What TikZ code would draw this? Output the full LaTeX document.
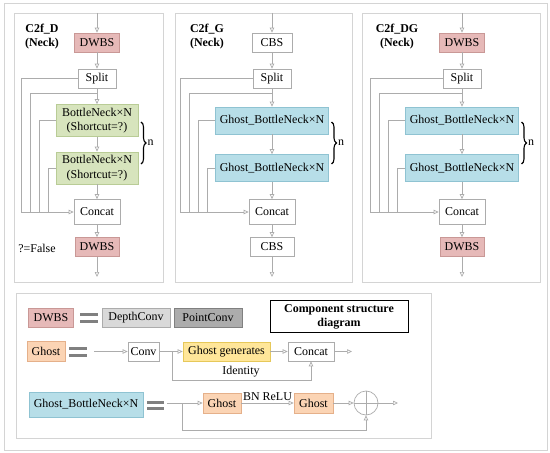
\documentclass[tikz,border=0pt]{standalone}
\usepackage{fontspec}
\setmainfont{Liberation Serif}
\usetikzlibrary{arrows.meta,decorations.pathreplacing}
\definecolor{lgray}{HTML}{ACACAC}
\definecolor{frame}{HTML}{D4D4D4}
\definecolor{dwbsfill}{HTML}{E6B9B8}
\definecolor{dwbsline}{HTML}{C99896}
\definecolor{bnfill}{HTML}{D7E4BD}
\definecolor{bnline}{HTML}{B9CC96}
\definecolor{gbnfill}{HTML}{B7DEE8}
\definecolor{gbnline}{HTML}{8FC3D2}
\definecolor{ghfill}{HTML}{FBD4B4}
\definecolor{ghline}{HTML}{E5B08A}
\definecolor{genfill}{HTML}{FFE699}
\definecolor{genline}{HTML}{E6C85A}
\definecolor{dcfill}{HTML}{D9D9D9}

\begin{document}
\begin{tikzpicture}[x=1bp, y=-1bp, every node/.style={font=\fontsize{12}{14.5}\selectfont}]
  \tikzset{>={Triangle[open,length=5bp,width=4.5bp]}}
  \tikzset{
    conn/.style={draw=lgray, line width=0.7bp},
    panel/.style={draw=frame, line width=0.8bp},
    box/.style={draw=lgray, fill=white, line width=0.7bp, inner sep=0pt,
      align=center, minimum height=19bp},
    dwbs/.style={box, draw=dwbsline, fill=dwbsfill, minimum width=45bp},
    cbs/.style={box, minimum width=40bp},
    bneck/.style={box, draw=bnline, fill=bnfill, minimum width=82bp, minimum height=32bp},
    gbneck/.style={box, draw=gbnline, fill=gbnfill, minimum width=113bp, minimum height=27bp},
    ghost/.style={box, draw=ghline, fill=ghfill, minimum width=38bp, minimum height=20bp},
    eqbar/.style={draw=gray, line width=3bp},
    nbrace/.style={draw=black, line width=1.1bp, decorate, decoration={brace, amplitude=5bp}},
  }
  \useasboundingbox (0,0) rectangle (550,453);
  \draw [panel] (4,3) rectangle (547,450);
  %
  % the three neck blocks
  \foreach \a/\b in {14/163, 175/352, 362/540} {
    \draw [panel] (\a,13) rectangle (\b,282);
  }
  \foreach \i/\cx/\dl/\tx/\toptext/\topsty/\bnsty/\bntext/\bnw in {
      D/97/76/42/DWBS/dwbs/bneck/{BottleNeck×N\\(Shortcut=?)}/82,
      G/272/92/207/CBS/cbs/gbneck/{Ghost\_BottleNeck×N}/113,
      DG/462/92/397/DWBS/dwbs/gbneck/{Ghost\_BottleNeck×N}/113} {
    \node [align=center, font=\fontsize{12}{14}\selectfont\bfseries] (title\i) at (\tx,37) {C2f\_\i\\(Neck)};
    \coordinate (in\i) at (\cx,13);
    \node [\topsty] (top\i) at (\cx,42.5) {\toptext};
    \node [box, minimum width=38bp] (split\i) at (\cx,78.5) {Split};
    \node [\bnsty] (bna\i) at (\cx,120.5) {\bntext};
    \node [\bnsty] (bnb\i) at (\cx,168) {\bntext};
    \node [box, minimum width=46bp, minimum height=25bp] (cat\i) at (\cx,212) {Concat};
    \node [\topsty, minimum width=44bp] (bot\i) at (\cx,247) {\toptext};
    \coordinate (out\i) at (\cx,277);
    %
    \draw [conn,->] (in\i) -- (top\i);
    \draw [conn,->] (top\i) -- (split\i);
    \draw [conn,->] (split\i) -- (bna\i);
    \draw [conn,->] (bna\i) -- (bnb\i);
    \draw [conn,->] (bnb\i) -- (cat\i);
    \draw [conn,->] (cat\i) -- (bot\i);
    \draw [conn,->] (bot\i) -- (out\i);
    % bypass lines into Concat
    \coordinate (m\i) at (\cx-\dl,212);
    \coordinate (br\i) at (\cx,93);
    \draw [conn,->] (split\i.west) -| (m\i) -- (cat\i.west);
    \draw [conn] (br\i) -| (\cx-\dl+9,212);
    \draw [conn] (bna\i.west) -| (\cx-\dl+18,212);
    \draw [conn] (bnb\i.west) -| (\cx-\dl+27,212);
    \draw [nbrace] (\cx+\bnw/2+3,122) -- (\cx+\bnw/2+3,164)
      node [midway, right=6bp, inner sep=0pt] (n\i) {n};
  }
  \node (flag) at (37,248) {?=False};
  %
  % component structure diagram
  \draw [panel] (16,293) rectangle (431,438);
  \node [draw=black, line width=1bp, minimum width=138bp, minimum height=31bp,
    align=center, font=\fontsize{12}{14}\selectfont\bfseries] (legend) at (339,316.5)
    {Component structure\\diagram};
  %
  \node [dwbs] (dwbsK) at (51,317.5) {DWBS};
  \draw [eqbar] (80,314) -- (98,314) (80,321) -- (98,321);
  \node [box, draw=lgray, fill=dcfill, minimum width=68bp] (dconv) at (136,317.5) {DepthConv};
  \node [box, draw=gray, fill=lgray, minimum width=68bp] (pconv) at (208,317.5) {PointConv};
  %
  \node [ghost] (ghostK) at (46,351.5) {Ghost};
  \draw [eqbar] (69,348) -- (87,348) (69,355) -- (87,355);
  \coordinate (ga) at (94,351.5);
  \node [box, minimum width=31bp] (conv) at (143.5,351.5) {Conv};
  \node [box, draw=genline, fill=genfill, minimum width=87bp] (gen) at (226.5,351.5) {Ghost generates};
  \node [box, minimum width=46bp] (catK) at (311,351.5) {Concat};
  \coordinate (gb) at (172,351.5);
  \coordinate (gc) at (311,380);
  \coordinate (gout) at (352,351.5);
  \draw [conn,->] (ga) -- (conv);
  \draw [conn,->] (conv) -- (gen);
  \draw [conn,->] (gen) -- (catK);
  \draw [conn,->] (catK) -- (gout);
  \draw [conn,->] (gb) |- (gc) -- (catK);
  \node (ident) at (241,372) {Identity};
  %
  \node [box, draw=gbnline, fill=gbnfill, minimum width=114bp, minimum height=25bp] (gbnK) at (86,404.5) {Ghost\_BottleNeck×N};
  \draw [eqbar] (147,402) -- (164,402) (147,408) -- (164,408);
  \coordinate (ha) at (167,403);
  \node [ghost] (gha) at (222,403) {Ghost};
  \node [ghost, minimum width=39bp] (ghb) at (313.5,403) {Ghost};
  \node [draw=lgray, line width=0.7bp, circle, minimum size=24bp, inner sep=0pt] (sum) at (366,403) {};
  \draw [conn] (sum.north) -- (sum.south) (sum.west) -- (sum.east);
  \coordinate (hb) at (182,403);
  \coordinate (hc) at (366,430);
  \coordinate (hout) at (398,403);
  \draw [conn,->] (ha) -- (gha);
  \draw [conn,->] (gha) -- (ghb);
  \node [inner sep=0pt] (bnrelu) at (267.5,397) {BN ReLU};
  \draw [conn,->] (ghb) -- (sum);
  \draw [conn,->] (sum) -- (hout);
  \draw [conn,->] (hb) |- (hc) -- (sum);
\end{tikzpicture}
\end{document}
